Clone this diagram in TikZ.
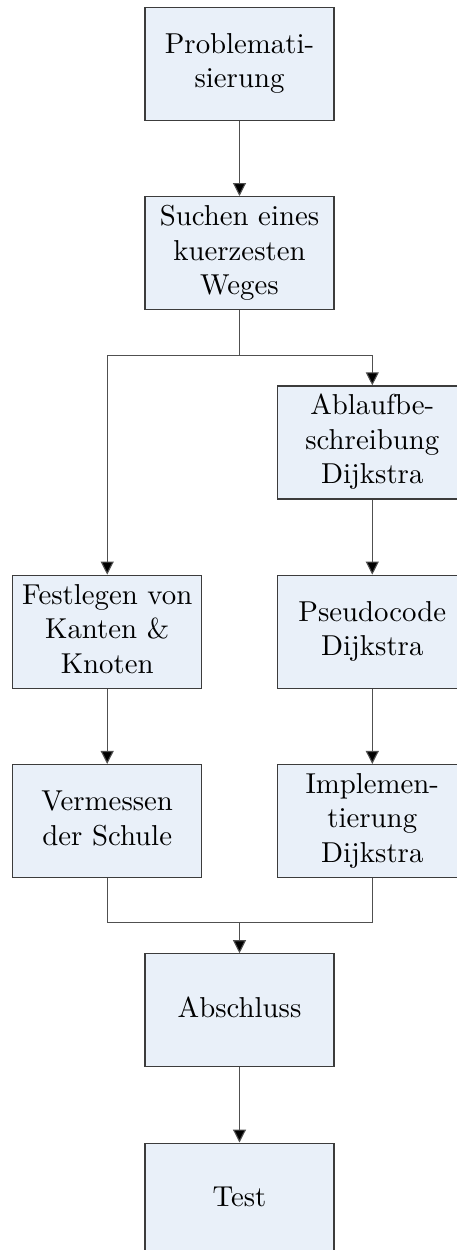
\documentclass[tikz,border=0pt]{standalone}
\usetikzlibrary{arrows.meta}
\definecolor{boxfill}{RGB}{233,240,249}
\definecolor{boxline}{RGB}{60,60,60}
\definecolor{conline}{RGB}{80,80,80}
\newcommand{\bigtext}[1]{\scalebox{2.88}{\begin{tabular}{@{}c@{}}#1\end{tabular}}}
\begin{document}
\begin{tikzpicture}[x=1pt,y=-1pt,
  box/.style={draw=boxline,line width=1.2pt,fill=boxfill,minimum width=189pt,minimum height=113pt,inner sep=0pt,align=center},
  con/.style={draw=conline,line width=1.1pt},
  arr/.style={con,-{Triangle[length=13pt,width=13pt,fill=black]}}]
\useasboundingbox (0,0) rectangle (457,1250);
\clip (0,0) rectangle (457,1250);
\node[box] (prob) at (239.5,63.8) {\bigtext{Problemati-\\sierung}};
\node[box] (such) at (239.5,253.1) {\bigtext{Suchen eines\\kuerzesten\\Weges}};
\node[box] (ablauf) at (372.3,442.4) {\bigtext{Ablaufbe-\\schreibung\\Dijkstra}};
\node[box] (fest) at (107.2,631.7) {\bigtext{Festlegen von\\Kanten \&\\Knoten}};
\node[box] (pseudo) at (372.3,631.7) {\bigtext{Pseudocode\\Dijkstra}};
\node[box] (verm) at (107.2,821.0) {\bigtext{Vermessen\\der Schule}};
\node[box] (impl) at (372.3,821.0) {\bigtext{Implemen-\\tierung\\Dijkstra}};
\node[box] (absch) at (239.5,1010.3) {\bigtext{Abschluss}};
\node[box] (test) at (239.5,1199.6) {\bigtext{Test}};
\coordinate (split) at (239.5,355.7);
\coordinate (merge) at (239.5,922.7);
\draw[arr] (prob.south) -- (such.north);
\draw[con] (such.south) -- (split);
\draw[arr] (split) -| (fest.north);
\draw[arr] (split) -| (ablauf.north);
\draw[arr] (ablauf.south) -- (pseudo.north);
\draw[arr] (pseudo.south) -- (impl.north);
\draw[arr] (fest.south) -- (verm.north);
\draw[con] (verm.south) |- (merge);
\draw[con] (impl.south) |- (merge);
\draw[arr] (merge) -- (absch.north);
\draw[arr] (absch.south) -- (test.north);
\end{tikzpicture}
\end{document}
